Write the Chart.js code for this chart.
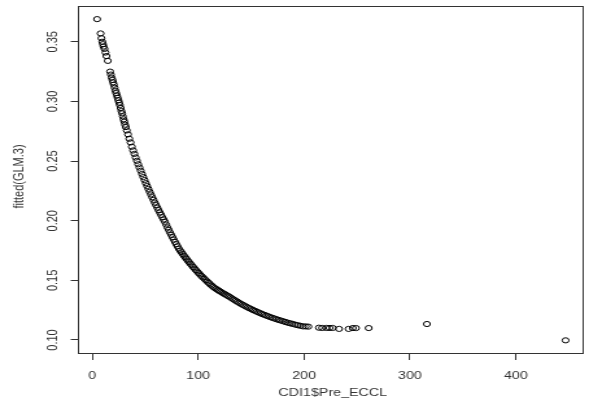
<!DOCTYPE html>
<html><head><meta charset="utf-8">
<script src="https://cdn.jsdelivr.net/npm/chart.js@4.4.0/dist/chart.umd.min.js"></script>
<style>
html,body{margin:0;padding:0;background:#fff;overflow:hidden;width:589px;height:415px}
#wrap{position:absolute;left:0;top:0;width:454px;height:415px;transform:scaleX(1.29736);transform-origin:0 0}
canvas{display:block}
</style></head><body>
<div id="wrap"><canvas id="c" width="454" height="415"></canvas></div>
<script>
const xTitle = "CDI1$Pre_ECCL";
const yTitle = "fitted(GLM.3)";
const xTickValues = [0, 100, 200, 300, 400];
const xTickLabels = ["0", "100", "200", "300", "400"];
const yTickValues = [0.10, 0.15, 0.20, 0.25, 0.30, 0.35];
const yTickLabels = ["0.10", "0.15", "0.20", "0.25", "0.30", "0.35"];

const preEccl = [
  4.5, 7.8, 8.6, 9.4, 10.0, 10.6, 11.5, 12.4, 13.3, 14.6,
  16.8, 17.5, 18.2, 19.0, 19.6, 20.3, 21.0, 21.8, 22.5, 23.2,
  23.9, 24.6, 25.3, 26.0, 26.7, 27.4, 28.1, 28.8, 29.5, 30.2,
  30.9, 31.6,
  32.5, 33.7, 34.9, 36.1, 37.3, 38.5, 39.7, 40.9, 42.1, 43.3,
  44.5, 45.7, 46.9, 48.1, 49.3, 50.5, 51.7, 52.9, 54.1, 55.3,
  56.5, 57.7, 58.9, 60.1, 61.3, 62.5, 63.7, 64.9, 66.1, 67.3,
  68.5, 69.7, 70.9, 72.1, 73.3, 74.5, 75.7, 76.9, 78.1, 79.3,
  80.5, 81.7, 82.9, 84.1, 85.3, 86.5, 87.7, 88.9, 90.1, 91.3,
  92.6, 93.9, 95.2, 96.5, 97.8, 99.1, 100.4, 101.7, 103.0, 104.4,
  105.8, 107.2, 108.6, 110.0, 111.4, 112.8, 114.2, 115.6, 117.0, 118.5,
  120.0, 121.5, 123.0, 124.5, 126.0, 127.5, 129.0, 130.6, 132.2, 133.8,
  135.4, 137.0, 138.6, 140.2, 141.8, 143.4, 145.0, 146.7, 148.4, 150.1,
  151.8, 153.5, 155.2, 157.0, 158.8, 160.6, 162.4, 164.2, 166.0, 168.0,
  170.0, 172.0, 174.0, 176.0, 178.0, 180.2, 182.4, 184.6, 186.8, 189.0,
  191.5, 194.0, 196.5, 199.0, 201.5, 204.0,
  214, 217, 221, 224, 227, 233, 242, 246, 249, 261,
  316, 447
];
const fittedGlm3 = [
  0.369, 0.357, 0.353, 0.350, 0.348, 0.346, 0.344, 0.341, 0.338, 0.334,
  0.325, 0.3225, 0.320, 0.318, 0.316, 0.314, 0.3115, 0.309, 0.307, 0.305,
  0.303, 0.301, 0.299, 0.297, 0.2945, 0.292, 0.290, 0.2875, 0.285, 0.283,
  0.2805, 0.2785,
  0.2757, 0.2724, 0.2687, 0.2656, 0.2620, 0.2589, 0.2560, 0.2530, 0.2502, 0.2473,
  0.2446, 0.2419, 0.2392, 0.2366, 0.2341, 0.2315, 0.2291, 0.2267, 0.2243, 0.2220,
  0.2197, 0.2175, 0.2152, 0.2131, 0.2110, 0.2089, 0.2069, 0.2049, 0.2029, 0.2010,
  0.1991, 0.1968, 0.1944, 0.1924, 0.1902, 0.1882, 0.1862, 0.1842, 0.1822, 0.1803,
  0.1785, 0.1766, 0.1750, 0.1736, 0.1721, 0.1707, 0.1693, 0.1680, 0.1666, 0.1653,
  0.1639, 0.1626, 0.1612, 0.1599, 0.1586, 0.1574, 0.1561, 0.1549, 0.1537, 0.1525,
  0.1513, 0.1501, 0.1489, 0.1478, 0.1466, 0.1456, 0.1445, 0.1436, 0.1428, 0.1419,
  0.1411, 0.1403, 0.1395, 0.1387, 0.1380, 0.1372, 0.1365, 0.1356, 0.1347, 0.1338,
  0.1329, 0.1321, 0.1312, 0.1304, 0.1296, 0.1289, 0.1281, 0.1273, 0.1266, 0.1259,
  0.1251, 0.1245, 0.1238, 0.1231, 0.1224, 0.1217, 0.1211, 0.1205, 0.1199, 0.1192,
  0.1186, 0.1180, 0.1174, 0.1168, 0.1163, 0.1157, 0.1151, 0.1145, 0.1140, 0.1135,
  0.1129, 0.1124, 0.1119, 0.1114, 0.1114, 0.1112,
  0.1103, 0.1101, 0.1101, 0.1101, 0.1101, 0.1093, 0.1093, 0.1100, 0.1100, 0.1100,
  0.1134, 0.0997
];

const FONT = '11px "Liberation Sans", Arial, sans-serif';
const TEXT = '#333';

const rAxes = {
  id: 'rAxes',
  afterDraw(chart) {
    const {ctx, chartArea: a, scales} = chart;
    const xs = scales.x, ys = scales.y;
    ctx.save();
    ctx.strokeStyle = '#333';
    ctx.lineWidth = 1;
    const l = Math.round(a.left) + 0.5, t = Math.round(a.top) + 0.5;
    const r = Math.round(a.right) + 0.5, b = Math.round(a.bottom) + 0.5;
    ctx.strokeRect(l, t, r - l, b - t);
    ctx.fillStyle = TEXT;
    ctx.font = FONT;
    ctx.textAlign = 'center';
    ctx.textBaseline = 'alphabetic';
    xTickValues.forEach((v, i) => {
      ctx.fillText(xTickLabels[i], xs.getPixelForValue(v), a.bottom + 25.5);
    });
    yTickValues.forEach((v, i) => {
      ctx.save();
      ctx.translate(a.left - 16.4, ys.getPixelForValue(v));
      ctx.rotate(-Math.PI / 2);
      ctx.fillText(yTickLabels[i], 0, 0);
      ctx.restore();
    });
    ctx.fillText(xTitle, (a.left + a.right) / 2 + 2, a.bottom + 43);
    ctx.save();
    ctx.translate(17.5, (a.top + a.bottom) / 2 - 3);
    ctx.rotate(-Math.PI / 2);
    ctx.fillText(yTitle, 0, 0);
    ctx.restore();
    ctx.restore();
  }
};

new Chart(document.getElementById('c'), {
  type: 'scatter',
  data: {
    datasets: [{
      data: preEccl.map((x, i) => ({x: x, y: fittedGlm3[i]})),
      pointStyle: 'circle',
      pointRadius: 2.6,
      pointBorderWidth: 1.0,
      borderColor: '#000',
      backgroundColor: 'rgba(0,0,0,0)',
      pointBackgroundColor: 'rgba(0,0,0,0)',
      pointBorderColor: '#000'
    }]
  },
  options: {
    responsive: false,
    animation: false,
    events: [],
    layout: {padding: {left: 0, top: 6, right: 1.7, bottom: 0}},
    plugins: {legend: {display: false}, tooltip: {enabled: false}},
    scales: {
      x: {
        type: 'linear', position: 'bottom', min: -13.7, max: 463,
        afterBuildTicks: s => { s.ticks = xTickValues.map(v => ({value: v})); },
        afterFit: s => { s.height = 62; },
        grid: {display: true, drawOnChartArea: false, drawTicks: true, tickLength: 7, color: '#333', lineWidth: 1},
        border: {display: false},
        ticks: {display: false}
      },
      y: {
        type: 'linear', position: 'left', min: 0.0891, max: 0.3800,
        afterBuildTicks: s => { s.ticks = yTickValues.map(v => ({value: v})); },
        afterFit: s => { s.width = 60; },
        grid: {display: true, drawOnChartArea: false, drawTicks: true, tickLength: 5.5, color: '#333', lineWidth: 1},
        border: {display: false},
        ticks: {display: false}
      }
    }
  },
  plugins: [rAxes]
});
</script>
</body></html>
